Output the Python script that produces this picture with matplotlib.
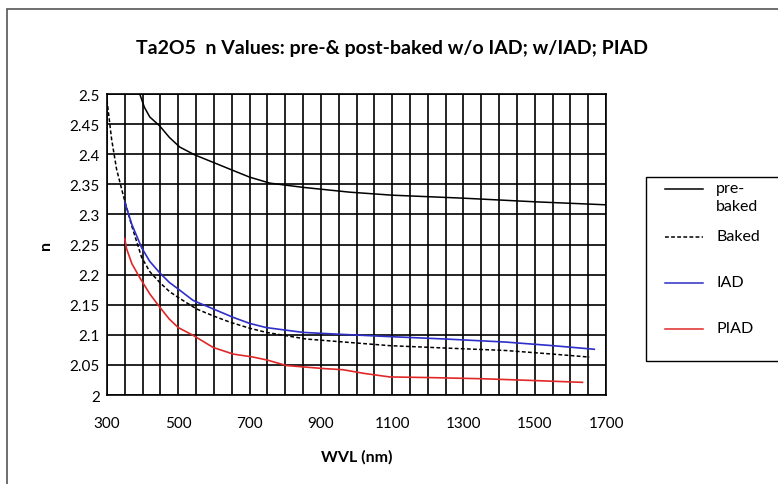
import numpy as np
import matplotlib
matplotlib.use("Agg")
import matplotlib.pyplot as plt
from matplotlib.lines import Line2D
from matplotlib.patches import Rectangle

# wavelength (nm) / refractive index
pre_wvl = [392, 405, 420, 448, 475, 504, 546, 600, 654, 700, 757, 850, 981, 1100, 1300, 1500, 1700]
pre_n = [2.500, 2.478, 2.462, 2.447, 2.428, 2.412, 2.399, 2.386, 2.373, 2.362, 2.352, 2.345, 2.337, 2.332, 2.327, 2.321, 2.316]

baked_wvl = [300, 313, 327, 346, 370, 397, 420, 448, 475, 500, 551, 600, 645, 700, 747, 859, 1093, 1250, 1417, 1550, 1653]
baked_n = [2.490, 2.425, 2.375, 2.331, 2.280, 2.229, 2.205, 2.187, 2.172, 2.162, 2.143, 2.131, 2.121, 2.111, 2.104, 2.093, 2.082, 2.078, 2.074, 2.068, 2.063]

iad_wvl = [350, 370, 397, 420, 448, 475, 500, 542, 598, 654, 700, 747, 850, 950, 1093, 1250, 1417, 1550, 1667]
iad_n = [2.320, 2.283, 2.245, 2.222, 2.203, 2.187, 2.176, 2.157, 2.143, 2.129, 2.119, 2.112, 2.104, 2.101, 2.097, 2.093, 2.088, 2.082, 2.076]

piad_wvl = [350, 355, 370, 392, 420, 448, 475, 500, 542, 598, 654, 710, 750, 803, 906, 962, 1020, 1093, 1200, 1354, 1500, 1634]
piad_n = [2.260, 2.243, 2.218, 2.195, 2.168, 2.146, 2.126, 2.112, 2.099, 2.079, 2.068, 2.063, 2.058, 2.049, 2.044, 2.042, 2.036, 2.030, 2.029, 2.027, 2.024, 2.021]

series_labels = ["pre-\nbaked", "Baked", "IAD", "PIAD"]
BLUE = "#2e2ec8"
RED = "#e02828"
DASH = (0, (2.5, 1.5))

plt.rcParams["font.family"] = ["Lato", "DejaVu Sans"]

fig = plt.figure(figsize=(7.78, 4.85), dpi=100)
ax = fig.add_axes([0.1375, 0.1835, 0.6415, 0.6205])

ax.plot(pre_wvl, pre_n, color="black", lw=1.1)
ax.plot(baked_wvl, baked_n, color="black", lw=1.1, ls=DASH)
ax.plot(iad_wvl, iad_n, color=BLUE, lw=1.2)
ax.plot(piad_wvl, piad_n, color=RED, lw=1.2)

ax.set_xlim(300, 1700)
ax.set_ylim(2.0, 2.5)
ax.set_xticks(np.arange(300, 1701, 200))
ax.set_xticks(np.arange(300, 1701, 50), minor=True)
ax.set_yticks(np.arange(2.0, 2.501, 0.05))
ax.set_yticklabels(["2", "2.05", "2.1", "2.15", "2.2", "2.25", "2.3", "2.35", "2.4", "2.45", "2.5"])
ax.grid(which="both", color="black", lw=1.2)
ax.set_axisbelow(True)
ax.tick_params(which="both", length=0, labelsize=11)
ax.tick_params(axis="x", pad=15)
ax.tick_params(axis="y", pad=5)
for s in ax.spines.values():
    s.set_color("black")
    s.set_linewidth(1.2)

ax.set_xlabel("WVL (nm)", fontsize=11.5, fontweight="bold", labelpad=14)
ax.set_ylabel("n", fontsize=11.5, fontweight="bold", labelpad=12)
fig.text(0.504, 0.9, "Ta2O5  n Values: pre-& post-baked w/o IAD; w/IAD; PIAD",
         ha="center", va="center", fontsize=14, fontweight="bold")

# legend box drawn in pixel positions of the figure
W, H = 778, 485
fig.add_artist(Rectangle((646 / W, 1 - 362 / H), 140 / W, 184 / H, transform=fig.transFigure,
                         fill=False, edgecolor="black", lw=1.0, clip_on=False))
handles = [("black", "-", 190), ("black", DASH, 238), (BLUE, "-", 284), (RED, "-", 330)]
for (c, ls, py), lab in zip(handles, series_labels):
    fig.add_artist(Line2D([665 / W, 703 / W], [1 - py / H] * 2, color=c, ls=ls, lw=1.1,
                          transform=fig.transFigure))
    fig.text(716 / W, 1 - (py - 8) / H, lab, ha="left", va="top", fontsize=11.5,
             linespacing=1.35)

fig.add_artist(Rectangle((0.009, -0.01), 1.0, 0.99, transform=fig.transFigure,
                         fill=False, edgecolor="#555555", lw=1.2))

fig.savefig("out.png", dpi=100)
